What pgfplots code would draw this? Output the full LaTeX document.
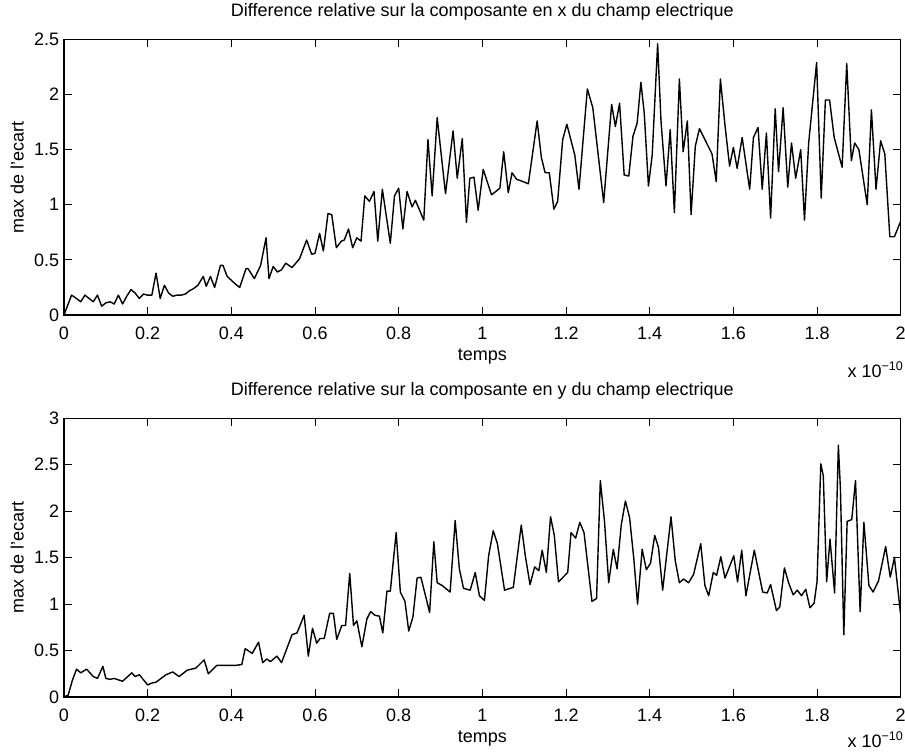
\documentclass[border=0pt]{standalone}
\usepackage{fontspec}
\setmainfont{Liberation Sans}
\usepackage{pgfplots}
\pgfplotsset{compat=1.18}
\newcommand{\fs}{\fontsize{18}{21}\selectfont}
\pgfplotsset{
  myax/.style={
    scale only axis, width=836.7pt,
    clip mode=individual,
    xmin=0, xmax=2, xtick={0,0.2,0.4,0.6,0.8,1,1.2,1.4,1.6,1.8,2},
    tick align=inside, major tick length=8pt,
    axis line style={line width=1.1pt},
    every tick/.style={line width=0.9pt, black},
    tick label style={font=\fs},
    /pgf/number format/assume math mode=true,
    scaled ticks=false,
    xticklabel style={inner sep=0pt, anchor=north, yshift=-11.5pt},
    yticklabel style={inner sep=0pt, anchor=east, xshift=-4.7pt},
    title style={font=\fs, at={(axis description cs:0.5,1)}, anchor=base, yshift=16.5pt, inner sep=0pt},
    xlabel style={font=\fs, at={(axis description cs:0.5,0)}, anchor=base, yshift=-45pt, inner sep=0pt},
    ylabel style={font=\fs, at={(axis description cs:-0.0478,0.5)}, anchor=south, inner sep=0pt},
    xlabel={temps}, ylabel={max de l'ecart},
  },
  myline/.style={black, line width=1.4pt, line join=round, mark=none}
}
\begin{document}
\begin{tikzpicture}
\useasboundingbox (-64pt,39.3pt) rectangle (841pt,-713.7pt);
\begin{axis}[myax, at={(0pt,0pt)}, anchor=north west, height=275.7pt,
  ymin=0, ymax=2.5, ytick={0,0.5,1,1.5,2,2.5},
  title={Difference relative sur la composante en x du champ electrique}]
\addplot[myline] coordinates {
(0,0) (0.018,0.18) (0.03,0.15) (0.04,0.12) (0.05,0.18) (0.06,0.15) (0.07,0.12) (0.08,0.18) (0.09,0.08) (0.10,0.11)
(0.11,0.12) (0.12,0.10) (0.13,0.18) (0.14,0.10) (0.15,0.17) (0.16,0.23) (0.17,0.20) (0.18,0.15) (0.19,0.19) (0.20,0.18)
(0.21,0.18) (0.22,0.38) (0.23,0.15) (0.24,0.27) (0.25,0.20) (0.26,0.17) (0.27,0.18) (0.28,0.18) (0.29,0.19) (0.30,0.22)
(0.31,0.24) (0.32,0.27) (0.333,0.35) (0.34,0.26) (0.35,0.35) (0.36,0.25) (0.374,0.45) (0.38,0.45) (0.39,0.35) (0.41,0.28)
(0.42,0.25) (0.435,0.42) (0.44,0.42) (0.455,0.33) (0.47,0.45) (0.483,0.70) (0.49,0.33) (0.50,0.44) (0.51,0.39) (0.52,0.41)
(0.53,0.47) (0.545,0.43) (0.563,0.51) (0.58,0.68) (0.592,0.55) (0.60,0.56) (0.611,0.74) (0.62,0.58) (0.631,0.92) (0.64,0.91)
(0.651,0.61) (0.663,0.67) (0.67,0.68) (0.68,0.78) (0.69,0.61) (0.70,0.70) (0.71,0.67) (0.719,1.08) (0.73,1.03) (0.741,1.12)
(0.75,0.67) (0.761,1.14) (0.78,0.65) (0.79,1.08) (0.80,1.15) (0.81,0.78) (0.82,1.12) (0.832,0.98) (0.84,1.04) (0.86,0.86)
(0.87,1.59) (0.88,1.08) (0.892,1.79) (0.912,1.10) (0.93,1.67) (0.94,1.24) (0.952,1.60) (0.962,0.84) (0.97,1.24) (0.98,1.25)
(0.99,0.95) (1.002,1.32) (1.022,1.09) (1.042,1.15) (1.051,1.48) (1.062,1.11) (1.071,1.29) (1.082,1.23) (1.09,1.22) (1.11,1.19)
(1.131,1.76) (1.141,1.43) (1.15,1.29) (1.16,1.29) (1.171,0.96) (1.18,1.03) (1.192,1.59) (1.202,1.73) (1.221,1.45) (1.231,1.14)
(1.251,2.05) (1.264,1.88) (1.29,1.02) (1.309,1.91) (1.318,1.71) (1.328,1.92) (1.339,1.27) (1.35,1.26) (1.36,1.62) (1.37,1.74)
(1.379,2.11) (1.387,1.83) (1.397,1.17) (1.406,1.45) (1.419,2.46) (1.427,1.76) (1.439,1.17) (1.449,1.68) (1.459,0.93) (1.471,2.14)
(1.48,1.48) (1.49,1.76) (1.499,0.91) (1.509,1.53) (1.519,1.69) (1.549,1.46) (1.559,1.21) (1.569,2.14) (1.58,1.72) (1.591,1.35)
(1.60,1.52) (1.609,1.33) (1.621,1.61) (1.639,1.14) (1.648,1.61) (1.659,1.70) (1.669,1.14) (1.679,1.65) (1.689,0.88) (1.70,1.87)
(1.708,1.30) (1.719,1.88) (1.730,1.16) (1.739,1.56) (1.749,1.24) (1.761,1.50) (1.770,0.86) (1.78,1.56) (1.799,2.29) (1.81,1.06)
(1.82,1.95) (1.83,1.95) (1.841,1.61) (1.86,1.34) (1.871,2.28) (1.882,1.40) (1.89,1.56) (1.90,1.50) (1.92,1.00) (1.93,1.86)
(1.941,1.14) (1.952,1.58) (1.962,1.46) (1.974,0.71) (1.985,0.71) (2.0,0.85)
};
\node[anchor=base east, inner sep=0pt, font=\fs] at (rel axis cs:1,0) [yshift=-62pt, xshift=3pt] {x 10\textsuperscript{−10}};
\end{axis}
\begin{axis}[myax, at={(0pt,-379pt)}, anchor=north west, height=278.7pt,
  ymin=0, ymax=3, ytick={0,0.5,1,1.5,2,2.5,3},
  title={Difference relative sur la composante en y du champ electrique}]
\addplot[myline] coordinates {
(0,0) (0.01,0.02) (0.02,0.18) (0.03,0.30) (0.04,0.26) (0.054,0.30) (0.07,0.22) (0.08,0.20) (0.093,0.33) (0.10,0.20)
(0.11,0.19) (0.12,0.20) (0.14,0.17) (0.162,0.26) (0.17,0.22) (0.18,0.24) (0.20,0.13) (0.21,0.15) (0.22,0.16) (0.244,0.24)
(0.26,0.27) (0.275,0.22) (0.295,0.29) (0.315,0.31) (0.335,0.40) (0.345,0.25) (0.365,0.34) (0.39,0.34) (0.41,0.34) (0.425,0.35)
(0.433,0.52) (0.45,0.47) (0.465,0.59) (0.475,0.37) (0.485,0.41) (0.493,0.38) (0.509,0.44) (0.52,0.37) (0.545,0.67) (0.557,0.69)
(0.574,0.88) (0.584,0.44) (0.594,0.74) (0.604,0.58) (0.612,0.63) (0.622,0.63) (0.635,0.90) (0.644,0.90) (0.652,0.62) (0.664,0.77)
(0.673,0.77) (0.683,1.33) (0.692,0.77) (0.70,0.82) (0.712,0.54) (0.724,0.84) (0.733,0.92) (0.743,0.88) (0.754,0.87) (0.762,0.69)
(0.772,1.14) (0.78,1.14) (0.794,1.77) (0.804,1.13) (0.815,1.03) (0.824,0.71) (0.834,0.86) (0.844,1.28) (0.853,1.29) (0.874,0.91)
(0.884,1.67) (0.892,1.23) (0.904,1.20) (0.923,1.13) (0.935,1.90) (0.945,1.38) (0.955,1.17) (0.971,1.15) (0.983,1.34) (0.993,1.09)
(1.005,1.04) (1.015,1.52) (1.026,1.79) (1.036,1.65) (1.053,1.15) (1.074,1.18) (1.093,1.85) (1.103,1.51) (1.114,1.21) (1.125,1.40)
(1.135,1.36) (1.143,1.58) (1.153,1.34) (1.163,1.94) (1.172,1.74) (1.182,1.24) (1.204,1.34) (1.212,1.77) (1.223,1.71) (1.233,1.88)
(1.243,1.77) (1.262,1.03) (1.273,1.06) (1.282,2.33) (1.292,1.89) (1.302,1.23) (1.313,1.59) (1.322,1.38) (1.332,1.85) (1.342,2.11)
(1.352,1.93) (1.362,1.49) (1.371,1.00) (1.382,1.59) (1.392,1.37) (1.402,1.44) (1.412,1.74) (1.421,1.61) (1.431,1.15) (1.451,1.94)
(1.461,1.47) (1.471,1.23) (1.481,1.27) (1.493,1.23) (1.505,1.32) (1.522,1.65) (1.532,1.20) (1.541,1.09) (1.552,1.34) (1.560,1.31)
(1.57,1.51) (1.58,1.28) (1.601,1.52) (1.61,1.24) (1.62,1.58) (1.63,1.09) (1.65,1.58) (1.67,1.13) (1.681,1.12) (1.689,1.21)
(1.703,0.93) (1.711,0.97) (1.722,1.39) (1.732,1.23) (1.743,1.10) (1.753,1.15) (1.763,1.09) (1.773,1.16) (1.783,0.96) (1.793,1.01)
(1.80,1.24) (1.809,2.51) (1.815,2.38) (1.823,1.24) (1.831,1.70) (1.842,1.12) (1.851,2.71) (1.856,2.23) (1.864,0.67) (1.872,1.89)
(1.883,1.91) (1.892,2.33) (1.903,0.92) (1.912,1.88) (1.924,1.20) (1.934,1.13) (1.947,1.25) (1.964,1.62) (1.975,1.29) (1.985,1.50)
(2.0,0.88)
};
\node[anchor=base east, inner sep=0pt, font=\fs] at (rel axis cs:1,0) [yshift=-50pt, xshift=3pt] {x 10\textsuperscript{−10}};
\end{axis}
\end{tikzpicture}
\end{document}
